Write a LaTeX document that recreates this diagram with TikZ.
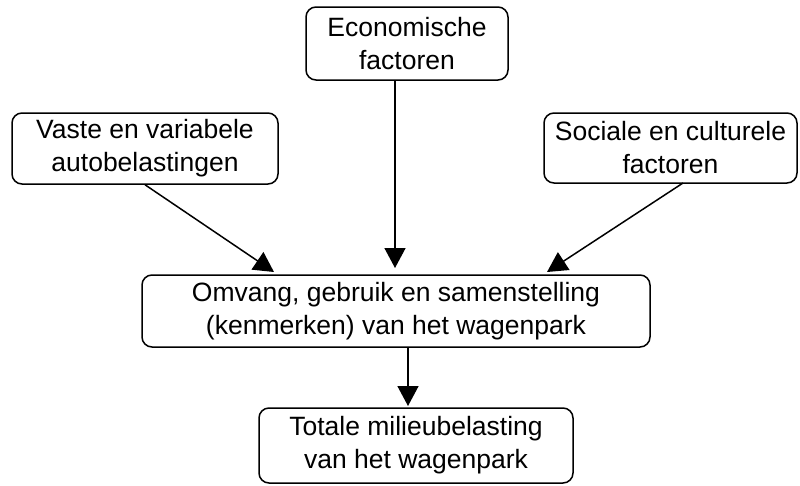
\documentclass[tikz,border=0pt]{standalone}
\usepackage{fontspec}
\setmainfont{Liberation Sans}
\usetikzlibrary{arrows.meta}
\begin{document}
\begin{tikzpicture}[x=1pt,y=-1pt,
  box/.style={draw,line width=1.5pt,rounded corners=10pt,align=center,inner sep=0pt,
    font=\fontsize{26.5}{33}\selectfont},
  arr/.style={line width=1.5pt,-{Triangle[length=20pt,width=21pt]}}]
\useasboundingbox (0,0) rectangle (800,485);
\node[box,minimum width=202pt,minimum height=73pt] (econ) at (407,43.5) {Economische\\factoren};
\node[box,minimum width=266pt,minimum height=71pt] (vaste) at (145,148.5) {Vaste en variabele\\autobelastingen};
\node[box,minimum width=253pt,minimum height=70pt] (soc) at (670.5,148) {Sociale en culturele\\factoren};
\node[box,minimum width=508pt,minimum height=72pt] (omv) at (396,311) {Omvang, gebruik en samenstelling\\(kenmerken) van het wagenpark};
\node[box,minimum width=314pt,minimum height=75pt] (tot) at (416,445.5) {Totale milieubelasting\\van het wagenpark};
\coordinate (e1) at (395,80);
\coordinate (t1) at (274,272);
\coordinate (t2) at (395,268);
\coordinate (t3) at (547,272);
\coordinate (s3) at (683,183);
\coordinate (s4) at (408,347);
\coordinate (t4) at (408,406);
\draw[arr] (vaste.south) -- (t1);
\draw[arr] (e1) -- (t2);
\draw[arr] (s3) -- (t3);
\draw[arr] (s4) -- (t4);
\end{tikzpicture}
\end{document}
